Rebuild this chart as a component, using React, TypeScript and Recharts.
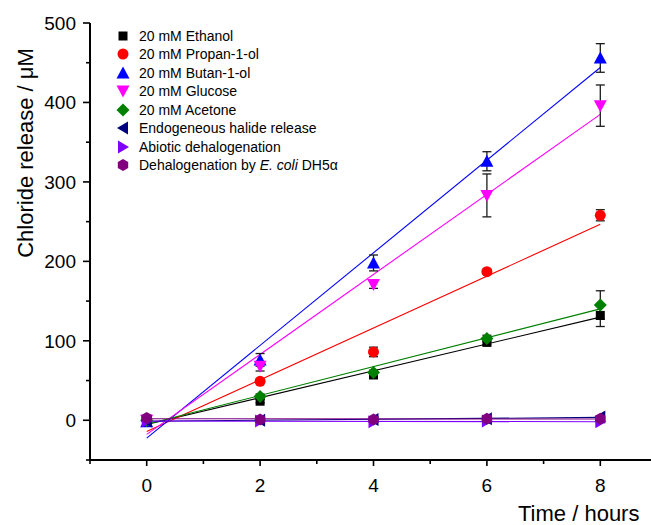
import React from 'react'
import { ComposedChart, Scatter, Line, XAxis, YAxis, ErrorBar, Legend } from 'recharts'

const FONT = "Arial, 'Liberation Sans', sans-serif"

// sampling times (hours)
const hours = [0, 2, 4, 6, 8]

// chloride release (µM) and standard deviations
const ethanol = [0, 24, 57, 98, 132]
const ethanolErr = [1, 2, 3, 3, 14]
const propanol = [1, 49, 86, 187, 258]
const propanolErr = [1, 3, 6, 3, 7]
const butanol = [-2, 76, 198, 326, 456]
const butanolErr = [1, 8, 10, 12, 18]
const glucose = [0, 68, 171, 283, 396]
const glucoseErr = [1, 6, 5, 27, 26]
const acetone = [0, 30, 60, 103, 145]
const acetoneErr = [1, 3, 3, 4, 18]
const endogenous = [-1, 0, 1, 2, 4]
const endogenousErr = [1, 1, 1, 1, 1]
const abiotic = [-1, -1, -2, -1, -2]
const abioticErr = [1, 1, 1, 1, 1]
const ecoli = [3, 1, 1, 2, 2]
const ecoliErr = [2, 2, 2, 2, 2]

const xTicks = [-1, 0, 1, 2, 3, 4, 5, 6, 7, 8, 9]
const yTicks = [-50, 0, 50, 100, 150, 200, 250, 300, 350, 400, 450, 500]

type Kind = 'square' | 'circle' | 'up' | 'down' | 'diamond' | 'left' | 'right' | 'hexagon'

interface SeriesDef {
  key: string
  label: React.ReactNode
  values: number[]
  errors: number[]
  color: string
  kind: Kind
}

const series: SeriesDef[] = [
  { key: 'ethanol', label: '20 mM Ethanol', values: ethanol, errors: ethanolErr, color: '#000000', kind: 'square' },
  { key: 'propanol', label: '20 mM Propan-1-ol', values: propanol, errors: propanolErr, color: '#ff0000', kind: 'circle' },
  { key: 'butanol', label: '20 mM Butan-1-ol', values: butanol, errors: butanolErr, color: '#0000ff', kind: 'up' },
  { key: 'glucose', label: '20 mM Glucose', values: glucose, errors: glucoseErr, color: '#ff00ff', kind: 'down' },
  { key: 'acetone', label: '20 mM Acetone', values: acetone, errors: acetoneErr, color: '#008000', kind: 'diamond' },
  { key: 'endogenous', label: 'Endogeneous halide release', values: endogenous, errors: endogenousErr, color: '#000080', kind: 'left' },
  { key: 'abiotic', label: 'Abiotic dehalogenation', values: abiotic, errors: abioticErr, color: '#8000ff', kind: 'right' },
  {
    key: 'ecoli',
    label: (
      <>
        Dehalogenation by <i>E. coli</i> DH5α
      </>
    ),
    values: ecoli,
    errors: ecoliErr,
    color: '#800080',
    kind: 'hexagon',
  },
]

// least-squares straight line through the measured points
function linearFit(xs: number[], ys: number[]) {
  const n = xs.length
  const mx = xs.reduce((a, b) => a + b, 0) / n
  const my = ys.reduce((a, b) => a + b, 0) / n
  let sxy = 0
  let sxx = 0
  xs.forEach((x, i) => {
    sxy += (x - mx) * (ys[i] - my)
    sxx += (x - mx) * (x - mx)
  })
  const slope = sxy / sxx
  return { slope, intercept: my - slope * mx }
}

function Marker({ kind, cx, cy, fill }: { kind: Kind; cx: number; cy: number; fill: string }) {
  switch (kind) {
    case 'square':
      return <rect x={cx - 4.5} y={cy - 4.5} width={9} height={9} fill={fill} />
    case 'circle':
      return <circle cx={cx} cy={cy} r={5.5} fill={fill} />
    case 'up':
      return <polygon points={`${cx},${cy - 6.5} ${cx + 6.5},${cy + 5.5} ${cx - 6.5},${cy + 5.5}`} fill={fill} />
    case 'down':
      return <polygon points={`${cx},${cy + 6.5} ${cx + 6.5},${cy - 5.5} ${cx - 6.5},${cy - 5.5}`} fill={fill} />
    case 'diamond':
      return <polygon points={`${cx},${cy - 6.5} ${cx + 6.5},${cy} ${cx},${cy + 6.5} ${cx - 6.5},${cy}`} fill={fill} />
    case 'left':
      return <polygon points={`${cx - 6},${cy} ${cx + 5},${cy - 6.5} ${cx + 5},${cy + 6.5}`} fill={fill} />
    case 'right':
      return <polygon points={`${cx + 6},${cy} ${cx - 5},${cy - 6.5} ${cx - 5},${cy + 6.5}`} fill={fill} />
    case 'hexagon': {
      const r = 6
      const pts = [0, 1, 2, 3, 4, 5]
        .map((i) => {
          const a = (Math.PI / 3) * i + Math.PI / 6
          return `${cx + r * Math.cos(a)},${cy + r * Math.sin(a)}`
        })
        .join(' ')
      return <polygon points={pts} fill={fill} />
    }
  }
  return null
}

function XTick({ x, y, payload }: any) {
  const v = payload.value as number
  const major = v % 2 === 0
  return (
    <g>
      <line x1={x} x2={x} y1={y} y2={y + (major ? 6 : 4)} stroke="#000" strokeWidth={1.6} />
      {major && v >= 0 && v <= 8 && (
        <text x={x} y={y + 18.5} dy="0.71em" textAnchor="middle" fontSize={19} fontFamily={FONT} fill="#000">
          {v}
        </text>
      )}
    </g>
  )
}

function YTick({ x, y, payload }: any) {
  const v = payload.value as number
  const major = v % 100 === 0
  return (
    <g>
      <line x1={x - (major ? 7 : 4)} x2={x} y1={y} y2={y} stroke="#000" strokeWidth={1.6} />
      {major && (
        <text x={x - 14} y={y} dy="0.355em" textAnchor="end" fontSize={19} fontFamily={FONT} fill="#000">
          {v}
        </text>
      )}
    </g>
  )
}

function YTitle({ viewBox }: any) {
  const x = viewBox.x + 3
  const y = 153
  return (
    <text
      x={x}
      y={y}
      transform={`rotate(-90 ${x} ${y})`}
      textAnchor="middle"
      fontSize={22}
      fontFamily={FONT}
      fill="#000"
    >
      Chloride release / μM
    </text>
  )
}

function XTitle({ viewBox }: any) {
  return (
    <text x={viewBox.x + 428} y={viewBox.y + 61} textAnchor="start" fontSize={22} fontFamily={FONT} fill="#000">
      Time / hours
    </text>
  )
}

function LegendBox() {
  return (
    <div style={{ fontFamily: FONT, fontSize: 14, color: '#000' }}>
      {series.map((s) => (
        <div key={s.key} style={{ display: 'flex', alignItems: 'center', height: 18.5, whiteSpace: 'nowrap' }}>
          <svg width={16} height={16} style={{ display: 'block' }}>
            <Marker kind={s.kind} cx={8} cy={8} fill={s.color} />
          </svg>
          <span style={{ marginLeft: 8 }}>{s.label}</span>
        </div>
      ))}
    </div>
  )
}

export default function App() {
  return (
    <div style={{ position: 'absolute', left: 0, top: 0, width: 651, height: 525, overflow: 'hidden', background: '#fff' }}>
      <ComposedChart width={680} height={525} margin={{ top: 23, right: 23, bottom: 25, left: 30 }}>
        <XAxis
          type="number"
          dataKey="x"
          domain={[-1, 9]}
          ticks={xTicks}
          interval={0}
          allowDataOverflow
          height={40}
          tickSize={0}
          tickMargin={0}
          tickLine={false}
          tick={<XTick />}
          axisLine={{ stroke: '#000', strokeWidth: 2 }}
          label={{ content: <XTitle /> }}
        />
        <YAxis
          type="number"
          dataKey="y"
          domain={[-50, 500]}
          ticks={yTicks}
          interval={0}
          allowDataOverflow
          width={60}
          tickSize={0}
          tickMargin={0}
          tickLine={false}
          tick={<YTick />}
          axisLine={{ stroke: '#000', strokeWidth: 2 }}
          label={{ content: <YTitle /> }}
        />
        <Legend
          layout="vertical"
          align="center"
          verticalAlign="middle"
          wrapperStyle={{ top: 26.5, left: 115, width: 'auto' }}
          content={<LegendBox />}
        />
        {series.map((s) => {
          const { slope, intercept } = linearFit(hours, s.values)
          const x0 = hours[0]
          const x1 = hours[hours.length - 1]
          const fit = [
            { x: x0, y: intercept + slope * x0 },
            { x: x1, y: intercept + slope * x1 },
          ]
          return (
            <Line
              key={`fit-${s.key}`}
              data={fit}
              dataKey="y"
              stroke={s.color}
              strokeWidth={1.1}
              dot={false}
              activeDot={false}
              legendType="none"
              isAnimationActive={false}
            />
          )
        })}
        {series.map((s) => (
          <Scatter
            key={s.key}
            name={s.key}
            data={hours.map((x, i) => ({ x, y: s.values[i], err: s.errors[i] }))}
            dataKey="y"
            fill={s.color}
            isAnimationActive={false}
            shape={(p: any) => <Marker kind={s.kind} cx={p.cx} cy={p.cy} fill={s.color} />}
          >
            <ErrorBar dataKey="err" direction="y" width={4.5} stroke="#1a1a1a" strokeWidth={1.3} />
          </Scatter>
        ))}
      </ComposedChart>
    </div>
  )
}
